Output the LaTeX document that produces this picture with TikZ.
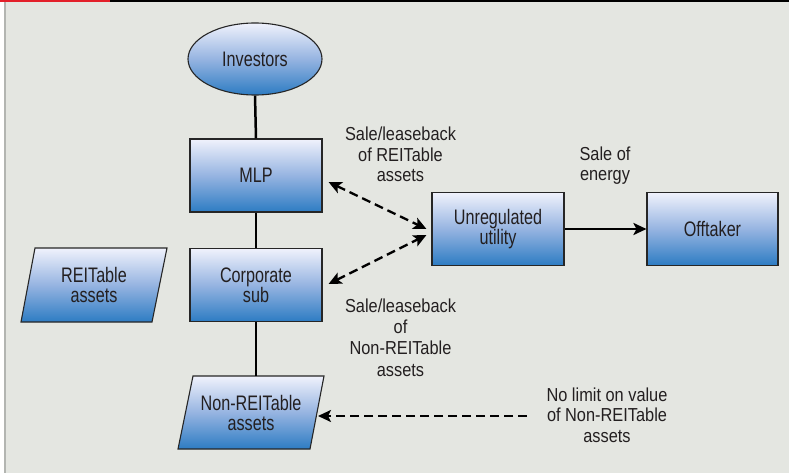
\documentclass[tikz,border=0pt]{standalone}
\usepackage{fontspec}
\setmainfont{Liberation Sans}[FakeStretch=0.82]
\newfontfamily\boxfont{Liberation Sans}[FakeStretch=0.77]
\newfontfamily\notefont{Liberation Sans}[FakeStretch=0.87]
\usetikzlibrary{arrows.meta,shapes.geometric,calc}
\definecolor{bgc}{HTML}{E4E6E1}
\definecolor{topc}{HTML}{F0F2FC}
\definecolor{midc}{HTML}{96B4E1}
\definecolor{botc}{HTML}{2D7CC3}
\definecolor{txtc}{HTML}{231F20}
\definecolor{redc}{HTML}{E3202A}
\definecolor{edgec}{HTML}{B3B5B1}
\tikzset{
  boxfill/.style={top color=topc, bottom color=botc, middle color=midc, draw=black!85, line width=1.1pt},
  rectbox/.style={boxfill, rectangle, minimum width=132pt, minimum height=73pt, inner sep=0pt, align=center, text=txtc, font=\boxfont\fontsize{21}{20}\selectfont},
  ellbox/.style={boxfill, ellipse, minimum width=134pt, minimum height=72pt, inner sep=0pt, text=txtc, font=\boxfont\fontsize{21}{20}\selectfont},
  paratext/.style={rectangle, minimum width=132pt, minimum height=73pt, inner sep=0pt, align=center, text=txtc, font=\boxfont\fontsize{21}{20}\selectfont},
  note/.style={align=center, text=txtc, inner sep=0pt, font=\notefont\fontsize{18.8}{20.5}\selectfont},
  link/.style={line width=2.5pt, black},
  dlink/.style={line width=2.3pt, black, dash pattern=on 9pt off 5pt},
  tip/.style={-{Stealth[length=13pt,width=12pt,inset=3pt]}},
  tips/.style={{Stealth[length=13pt,width=12pt,inset=3pt]}-{Stealth[length=13pt,width=12pt,inset=3pt]}}
}
\begin{document}
\begin{tikzpicture}[x=1pt,y=-1pt]
\useasboundingbox (0,0) rectangle (789,473);
% frame
\fill[white] (0,0) rectangle (789,473);
\fill[bgc] (5.5,0) rectangle (789,473);
\fill[edgec] (4,0) rectangle (5.5,473);
\fill[black] (110,0) rectangle (789,2.2);
\fill[redc] (0,0) rectangle (110,2.2);

% parallelogram shapes
\path[boxfill] (21,322) -- (152,322) -- (167,248) -- (35,248) -- cycle;
\path[boxfill] (178,449) -- (310,449) -- (324,376) -- (193,376) -- cycle;

% nodes
\node[ellbox] (inv) at (255,59) {Investors};
\node[rectbox] (mlp) at (256,175.5) {MLP};
\node[rectbox] (corp) at (256,285) {Corporate\\sub};
\node[rectbox] (util) at (498,229) {Unregulated\\utility};
\node[rectbox, minimum width=131pt] (off) at (712.5,229) {Offtaker};
\node[paratext] (reit) at (94,285) {REITable\\assets};
\node[paratext] (nonreit) at (251,412.5) {Non-REITable\\assets};

% labels
\node[note] (l1) at (400.5,154.5) {Sale/leaseback\\of REITable\\assets};
\node[note] (l2) at (605,165.5) {Sale of\\energy};
\node[note, font=\notefont\fontsize{18.8}{21.3}\selectfont] (l3) at (400.5,337.5) {Sale/leaseback\\of\\Non-REITable\\assets};
\node[note] (l4) at (607,415) {No limit on value\\of Non-REITable\\assets};
\coordinate (nstart) at (527,416);

% connectors
\draw[link] (inv.south) -- (mlp.north);
\draw[link] (mlp.south) -- (corp.north);
\draw[link] (corp.south) -- (corp.south |- nonreit.north);
\draw[link, tip] (util.east) -- (off.west);
\draw[dlink, tips] ($(mlp.east)+(6,6.5)$) -- ($(util.west)+(-5,0)$);
\draw[dlink, tips] ($(corp.east)+(6,-1)$) -- ($(util.west)+(-5,6)$);
\draw[dlink, tip] (nstart) -- (318,416);
\end{tikzpicture}
\end{document}
